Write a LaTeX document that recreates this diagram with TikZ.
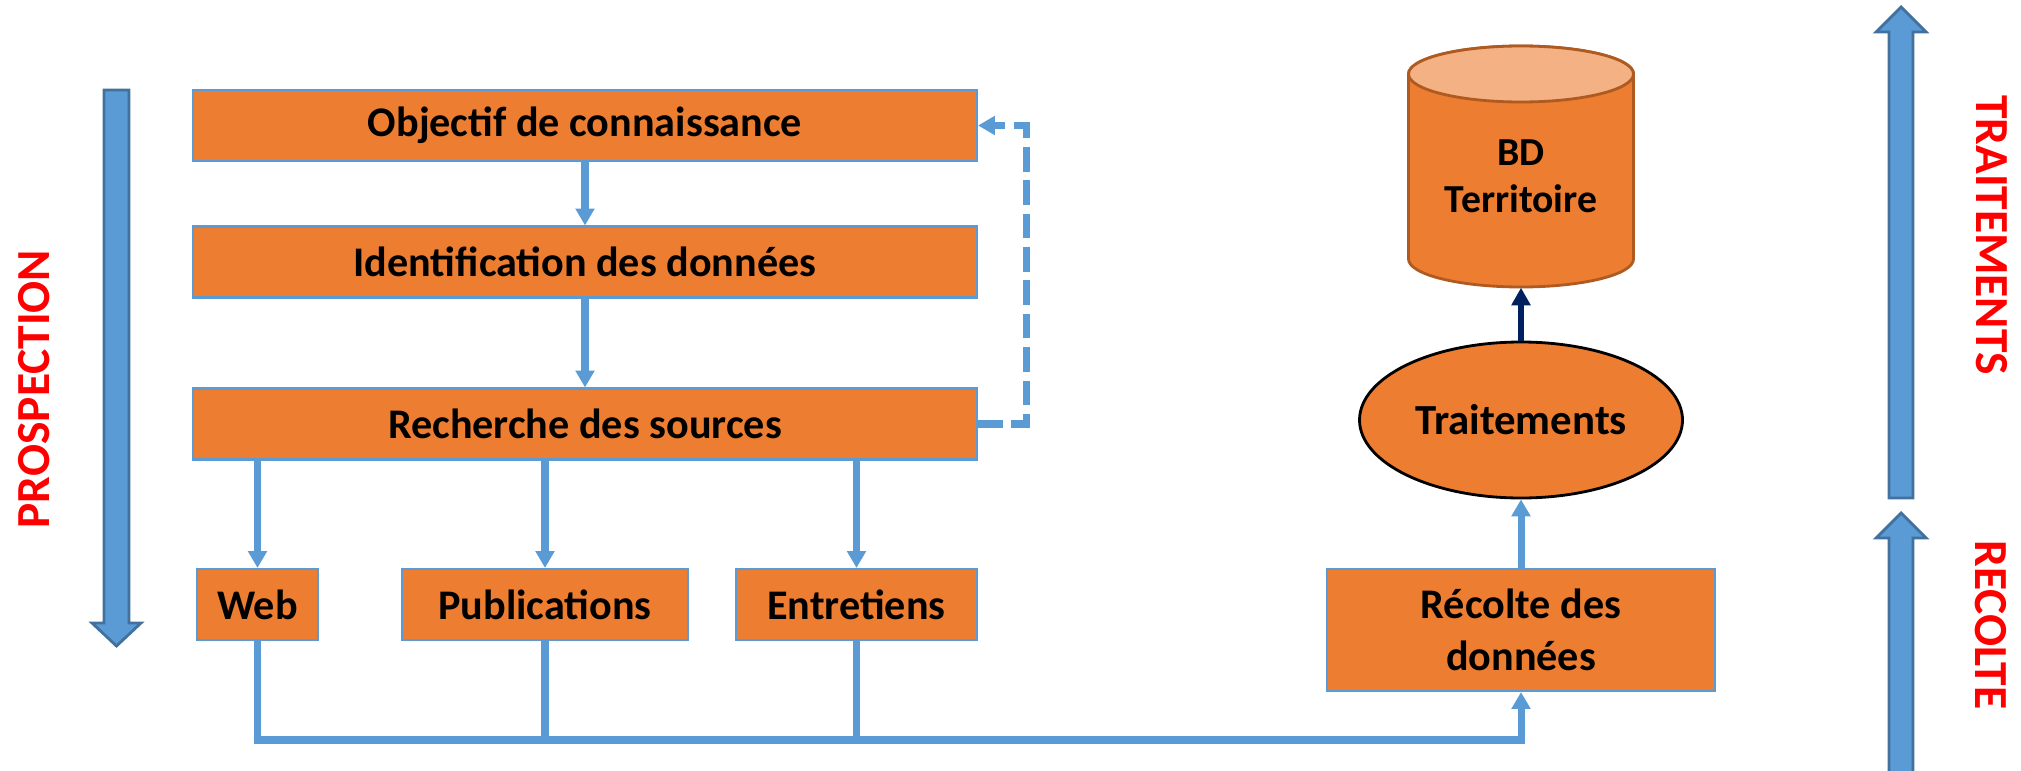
\documentclass[tikz,border=0pt]{standalone}
\usepackage{fontspec}
\setmainfont{Carlito}
\usetikzlibrary{arrows.meta,shapes.geometric,calc}
\definecolor{boxorange}{HTML}{ED7D31}
\definecolor{lineblue}{HTML}{5B9BD5}
\definecolor{darkblue}{HTML}{002060}
\definecolor{arrowedge}{HTML}{41719C}
\definecolor{cyltop}{HTML}{F4B183}
\definecolor{cyledge}{HTML}{AE5A21}
\tikzset{
  procbox/.style={draw=lineblue, fill=boxorange, line width=0.6pt, inner sep=0pt,
    font=\bfseries\fontsize{12}{14.6}\selectfont, align=center},
  link/.style={draw=lineblue, line width=2pt, -{Triangle[width=5.2pt,length=4.8pt]}},
  bus/.style={draw=lineblue, line width=2pt},
  bigarrow/.style={fill=lineblue, draw=arrowedge, line width=0.8pt},
  phase/.style={text=red, font=\bfseries\fontsize{13.5}{16}\selectfont},
}

\begin{document}
\begin{tikzpicture}
\useasboundingbox (0,0) rectangle (20.21,7.70);
%
\node[procbox, minimum width=7.84cm, minimum height=0.71cm] (obj)   at (5.85,6.445) {Objectif de connaissance};
\node[procbox, minimum width=7.84cm, minimum height=0.71cm] (ident) at (5.85,5.08)  {Identification des données};
\node[procbox, minimum width=7.84cm, minimum height=0.71cm] (rech)  at (5.85,3.46)  {Recherche des sources};
\node[procbox, minimum width=1.21cm, minimum height=0.71cm] (web)   at (2.575,1.655) {Web};
\node[procbox, minimum width=2.86cm, minimum height=0.71cm] (pub)   at (5.45,1.655)  {Publications};
\node[procbox, minimum width=2.41cm, minimum height=0.71cm] (entr)  at (8.565,1.655) {Entretiens};
\node[procbox, minimum width=3.88cm, minimum height=1.22cm] (recolte) at (15.21,1.40) {Récolte des\\données};
\node[ellipse, draw=black, line width=0.8pt, fill=boxorange, inner sep=0pt,
      minimum width=3.23cm, minimum height=1.56cm,
      font=\bfseries\fontsize{12.2}{14}\selectfont] (trait) at (15.21,3.50) {Traitements};
%
\coordinate (bdc) at (15.21,6.035);
\draw[cyledge, fill=boxorange, line width=0.8pt]
     ($(bdc)+(-1.125,0.925)$) -- ++(0,-1.85)
  arc[start angle=180, end angle=360, x radius=1.125, y radius=0.28]
  -- ++(0,1.85)
  arc[start angle=0, end angle=180, x radius=1.125, y radius=0.28] -- cycle;
\draw[cyledge, fill=cyltop, line width=0.8pt] ($(bdc)+(0,0.925)$) ellipse[x radius=1.125, y radius=0.28];
\node[minimum width=2.25cm, minimum height=2.21cm, inner sep=0pt, align=center, yshift=-0.1cm,
      font=\bfseries\fontsize{11.3}{13.4}\selectfont] (bd) at (bdc) {BD\\Territoire};
%
\draw[link] (obj) -- (ident);
\draw[link] (ident) -- (rech);
\draw[link] (web |- rech.south)  -- (web);
\draw[link] (pub |- rech.south)  -- (pub);
\draw[link] (entr |- rech.south) -- (entr);
\draw[link, dash pattern=on 7pt off 2.5pt] (rech.east) -- ++(0.48,0) |- (obj.east);
\coordinate (bus) at (0,0.30);
\draw[link] (web.south) -- (web.south |- bus) -| (recolte.south);
\draw[bus] (pub.south)  -- (pub.south |- bus);
\draw[bus] (entr.south) -- (entr.south |- bus);
\draw[link] (recolte) -- (trait);
\draw[darkblue, line width=1.5pt, -{Triangle[width=5.2pt,length=5pt]}] (trait) -- (bd.south);
%
\draw[bigarrow] (1.04,6.80) -- (1.04,1.47) -- (0.92,1.47) -- (1.165,1.24)
  -- (1.41,1.47) -- (1.29,1.47) -- (1.29,6.80) -- cycle;
\draw[bigarrow] (18.89,2.72) -- (18.89,7.38) -- (18.76,7.38) -- (19.01,7.63)
  -- (19.26,7.38) -- (19.13,7.38) -- (19.13,2.72) -- cycle;
\draw[bigarrow] (18.89,-0.10) -- (18.89,2.32) -- (18.76,2.32) -- (19.01,2.57)
  -- (19.26,2.32) -- (19.13,2.32) -- (19.13,-0.10) -- cycle;
\node[phase, rotate=90]  (prosp) at (0.34,3.81)  {PROSPECTION};
\node[phase, rotate=-90] (trt)   at (19.92,5.35) {TRAITEMENTS};
\node[phase, rotate=-90] (rec)   at (19.91,1.45) {RECOLTE};
\end{tikzpicture}
\end{document}
